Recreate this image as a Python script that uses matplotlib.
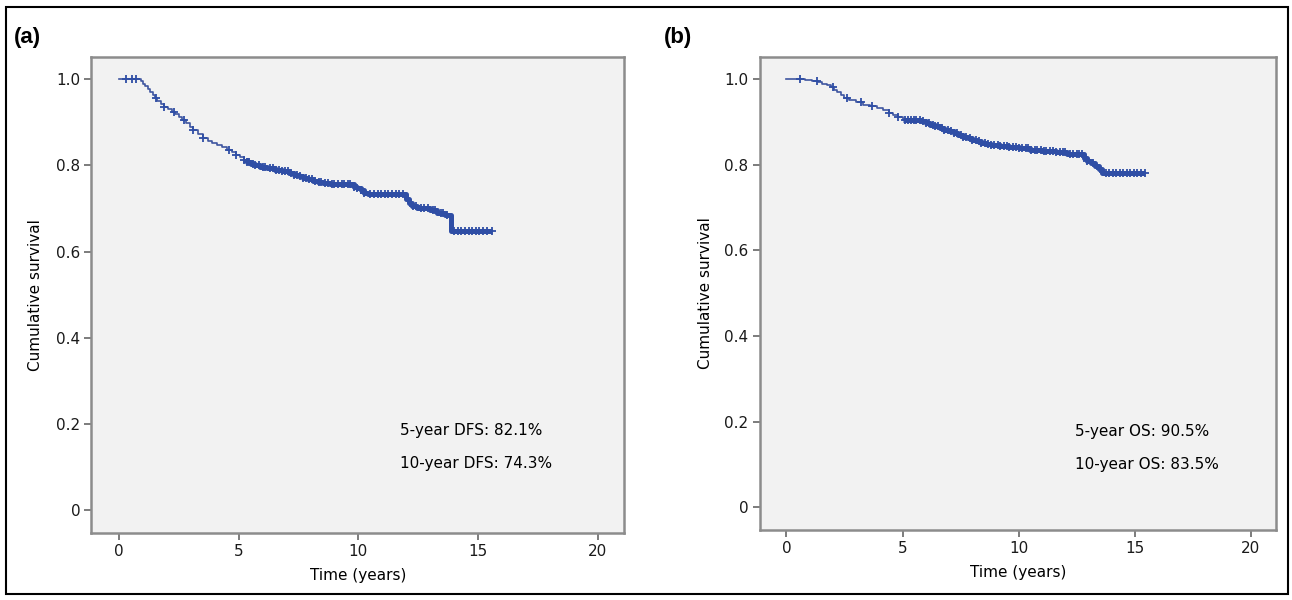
import matplotlib
matplotlib.use("Agg")
import matplotlib.pyplot as plt
import numpy as np
from matplotlib.patches import Rectangle

plt.rcParams['font.family'] = ['DejaVu Sans']
plt.rcParams['font.size'] = 11

# disease-free survival (a): step times and survival after each step
dfs_t = [0, 0.9, 1.0, 1.1, 1.2, 1.3, 1.4, 1.5, 1.6, 1.75,
         1.9, 2.05, 2.2, 2.35, 2.5, 2.65, 2.8, 2.95, 3.1, 3.3,
         3.5, 3.7, 3.9, 4.1, 4.3, 4.5, 4.7, 4.9, 5.05, 5.2,
         5.35, 5.5, 5.7, 5.9, 6.2, 6.5, 6.8, 7.1, 7.3, 7.5,
         7.7, 7.9, 8.1, 8.3, 8.5, 8.8, 9.8, 9.95, 10.1, 10.25,
         10.4, 12.0, 12.1, 12.25, 12.45, 13.0, 13.3, 13.6, 13.85]
dfs_s = [1.0, .996, .99, .984, .977, .97, .963, .956, .949, .942,
         .936, .931, .925, .919, .912, .905, .898, .89, .882, .874,
         .865, .858, .853, .848, .842, .836, .831, .825, .819, .813,
         .808, .804, .8, .797, .794, .79, .787, .783, .779, .775,
         .771, .768, .765, .762, .759, .756, .751, .747, .742, .737,
         .733, .722, .714, .707, .701, .697, .69, .684, .647]
dfs_end = 15.6
dfs_cens = [0.3, 0.55, 0.7, 1.55, 1.9, 2.3, 2.7, 3.1, 3.5, 4.6, 4.9,
            5.2, 5.35, 5.45, 5.6, 5.7, 5.85, 6.0, 6.1, 6.3, 6.45, 6.55, 6.7, 6.8, 6.95,
            7.05, 7.2, 7.3, 7.45, 7.55, 7.7, 7.8, 7.95, 8.05, 8.2, 8.35, 8.45, 8.6, 8.75,
            8.9, 9.0, 9.15, 9.3, 9.4, 9.55, 9.65, 9.8, 9.95, 10.1, 10.25, 10.5, 10.65,
            10.8, 10.95, 11.1, 11.25, 11.4, 11.55, 11.7, 11.85, 12.3, 12.4, 12.6, 12.75,
            12.9, 13.1, 13.2, 13.45, 13.55, 13.7, 14.0, 14.15, 14.3, 14.45, 14.6, 14.75,
            14.9, 15.05, 15.2, 15.35, 15.6]

# overall survival (b)
os_t = [0, 0.8, 1.1, 1.35, 1.55, 1.75, 1.9, 2.05, 2.2, 2.35,
        2.5, 2.7, 3.0, 3.3, 3.6, 3.9, 4.15, 4.4, 4.6, 4.8,
        5.0, 5.8, 6.0, 6.2, 6.4, 6.6, 6.8, 7.0, 7.2, 7.4,
        7.6, 7.8, 8.0, 8.2, 8.4, 8.6, 8.8, 9.2, 9.6, 10.0,
        10.5, 11.0, 11.6, 12.1, 12.8, 12.95, 13.1, 13.3, 13.45, 13.6]
os_s = [1.0, .998, .996, .993, .99, .986, .981, .976, .97, .964,
        .957, .951, .946, .941, .937, .933, .928, .922, .917, .912,
        .906, .902, .898, .894, .89, .886, .882, .878, .874, .87,
        .866, .862, .858, .855, .852, .849, .846, .844, .842, .839,
        .835, .833, .83, .826, .816, .81, .804, .798, .79, .782]
os_end = 15.45
os_cens = [0.6, 1.3, 2.0, 2.6, 3.2, 3.7, 4.4, 4.8,
           5.1, 5.25, 5.35, 5.5, 5.6, 5.75, 5.9, 6.0, 6.15, 6.3, 6.4, 6.55, 6.7, 6.8, 6.95,
           7.1, 7.2, 7.35, 7.5, 7.6, 7.75, 7.9, 8.0, 8.15, 8.3, 8.4, 8.55, 8.7, 8.8, 8.95,
           9.1, 9.2, 9.35, 9.5, 9.6, 9.75, 9.9, 10.0, 10.15, 10.3, 10.4, 10.55, 10.7, 10.8,
           10.95, 11.1, 11.2, 11.35, 11.5, 11.6, 11.8, 11.9, 12.0, 12.2, 12.35, 12.5, 12.6,
           12.75, 12.95, 13.2, 13.5, 13.75, 13.9, 14.05, 14.2, 14.35, 14.5, 14.65, 14.8,
           14.95, 15.1, 15.25, 15.45]

panels = ['(a)', '(b)']
notes = [('5-year DFS: 82.1%', '10-year DFS: 74.3%'), ('5-year OS: 90.5%', '10-year OS: 83.5%')]
curves = [(dfs_t, dfs_s, dfs_end, dfs_cens), (os_t, os_s, os_end, os_cens)]
note_xy = [(11.74, 0.185, 0.107), (12.44, 0.177, 0.099)]
band_from = [5.3, 5.0]   # where the censor marks pile up into a thick band

fig = plt.figure(figsize=(12.92, 6), dpi=100)
fig.add_artist(Rectangle((0.0046, 0.01), 0.9923, 0.978, transform=fig.transFigure,
                         fill=False, lw=1.5, ec='black'))

axes_pos = [[0.0708, 0.1122, 0.4123, 0.7935], [0.588, 0.1167, 0.3999, 0.789]]
label_x = [14 / 1292, 664 / 1292]
blue = '#2f4ea5'

for i in range(2):
    ax = fig.add_axes(axes_pos[i])
    ax.set_facecolor('#f2f2f2')
    t, s, end, cens = curves[i]
    tt = np.array(t + [end])
    ss = np.array(s + [s[-1]])
    ax.step(tt, ss, where='post', color='#3f55a0', lw=1.2)

    # thick part of the curve
    k = np.searchsorted(tt, band_from[i], side='right') - 1
    bt = np.concatenate([[band_from[i]], tt[k + 1:]])
    bs = np.concatenate([[ss[k]], ss[k + 1:]])
    ax.step(bt, bs, where='post', color=blue, lw=3.6, solid_capstyle='butt')

    idx = np.searchsorted(t, cens, side='right') - 1
    ax.plot(cens, np.array(s)[idx], ls='none', marker='+', ms=6, mew=1.3, color=blue)

    ax.set_xlim(-1.15, 21.1)
    ax.set_ylim(-0.053, 1.053)
    ax.set_xticks([0, 5, 10, 15, 20])
    ax.set_yticks([0, 0.2, 0.4, 0.6, 0.8, 1.0])
    ax.set_yticklabels(['0', '0.2', '0.4', '0.6', '0.8', '1.0'])
    ax.tick_params(direction='out', length=5, width=1.2, color='#666666', pad=3,
                   labelsize=11, labelcolor='#1a1a1a')
    for sp in ax.spines.values():
        sp.set_color('#8c8c8c')
        sp.set_linewidth(1.8)

    ax.set_xlabel('Time (years)', fontsize=11)
    ax.xaxis.label.set_va('center')
    ax.xaxis.set_label_coords(0.5, -0.089)
    ax.set_ylabel('Cumulative survival', fontsize=11)
    ax.yaxis.label.set_va('center')
    ax.yaxis.set_label_coords(-0.105, 0.5)

    nx, ny1, ny2 = note_xy[i]
    ax.text(nx, ny1, notes[i][0], va='center', ha='left', fontsize=11)
    ax.text(nx, ny2, notes[i][1], va='center', ha='left', fontsize=11)

    fig.text(label_x[i], 1 - 37 / 600, panels[i], va='center', ha='left',
             fontsize=16, fontweight='bold', family='Liberation Sans')

fig.savefig('out.png', dpi=100)
